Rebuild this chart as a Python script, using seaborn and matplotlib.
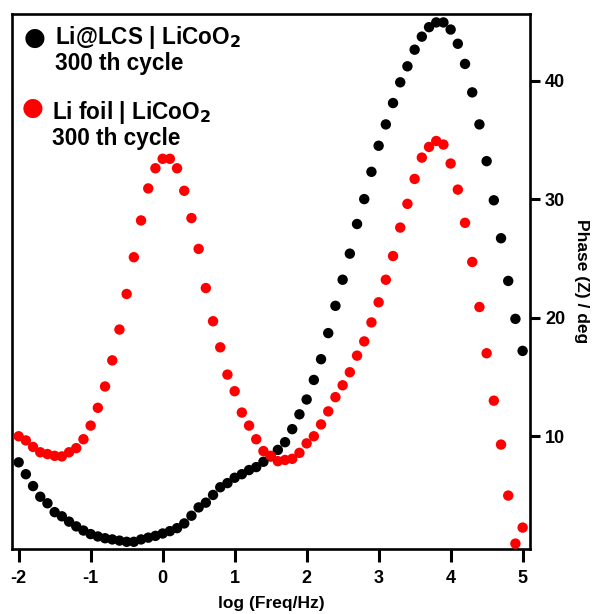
import numpy as np
import pandas as pd
import matplotlib
matplotlib.use("Agg")
import matplotlib.pyplot as plt
import seaborn as sns

# ---- data ----
log_freq = [-2.0, -1.9, -1.8, -1.7, -1.6, -1.5, -1.4, -1.3, -1.2, -1.1,
            -1.0, -0.9, -0.8, -0.7, -0.6, -0.5, -0.4, -0.3, -0.2, -0.1,
            0.0, 0.1, 0.2, 0.3, 0.4, 0.5, 0.6, 0.7, 0.8, 0.9,
            1.0, 1.1, 1.2, 1.3, 1.4, 1.5, 1.6, 1.7, 1.8, 1.9,
            2.0, 2.1, 2.2, 2.3, 2.4, 2.5, 2.6, 2.7, 2.8, 2.9,
            3.0, 3.1, 3.2, 3.3, 3.4, 3.5, 3.6, 3.7, 3.8, 3.9,
            4.0, 4.1, 4.2, 4.3, 4.4, 4.5, 4.6, 4.7, 4.8, 4.9, 5.0]

phase_lcs = [7.8, 6.8, 5.8, 4.9, 4.35, 3.6, 3.25, 2.8, 2.4, 2.05,
             1.75, 1.55, 1.4, 1.3, 1.2, 1.1, 1.1, 1.3, 1.45, 1.6,
             1.8, 2.0, 2.25, 2.65, 3.3, 4.0, 4.4, 5.05, 5.7, 6.05,
             6.5, 6.8, 7.15, 7.4, 7.85, 8.3, 8.85, 9.5, 10.6, 11.85,
             13.1, 14.75, 16.5, 18.7, 21.0, 23.2, 25.4, 27.9, 30.0, 32.3,
             34.5, 36.3, 38.1, 39.85, 41.2, 42.6, 43.7, 44.5, 44.9, 44.9,
             44.3, 43.1, 41.4, 39.0, 36.3, 33.2, 29.9, 26.7, 23.1, 19.9, 17.2]

phase_foil = [10.0, 9.65, 9.1, 8.65, 8.5, 8.35, 8.3, 8.65, 9.0, 9.75,
              10.9, 12.4, 14.2, 16.4, 19.0, 22.0, 25.1, 28.2, 30.9, 32.6,
              33.4, 33.4, 32.6, 30.7, 28.4, 25.8, 22.5, 19.7, 17.5, 15.2,
              13.8, 12.0, 10.9, 9.75, 8.75, 8.35, 7.9, 8.0, 8.1, 8.6,
              9.4, 10.0, 11.0, 12.1, 13.3, 14.3, 15.4, 16.8, 18.0, 19.6,
              21.3, 23.2, 25.2, 27.6, 29.6, 31.7, 33.5, 34.4, 34.9, 34.6,
              33.0, 30.8, 28.0, 24.7, 20.9, 17.0, 13.0, 9.3, 5.0, 0.95, 2.3]

series_names = ["Li@LCS | LiCoO$_2$", "Li foil | LiCoO$_2$"]
series_colors = ["#000000", "#ff0000"]
cycle_label = "300 th cycle"
x_ticks = [-2, -1, 0, 1, 2, 3, 4, 5]
y_ticks = [10, 20, 30, 40]

df = pd.DataFrame({
    "logf": log_freq + log_freq,
    "phase": phase_lcs + phase_foil,
    "cell": [series_names[0]] * len(log_freq) + [series_names[1]] * len(log_freq),
})

# ---- style ----
sns.set_style("ticks")
plt.rcParams["font.family"] = ["Liberation Sans", "DejaVu Sans"]
plt.rcParams["font.weight"] = "bold"
plt.rcParams["mathtext.default"] = "bf"
plt.rcParams["text.color"] = "black"
plt.rcParams["axes.labelcolor"] = "black"
plt.rcParams["xtick.color"] = "black"
plt.rcParams["ytick.color"] = "black"

fig = plt.figure(figsize=(5.98, 6.14), dpi=100)
ax = fig.add_axes([0.020, 0.106, 0.866, 0.871])

sns.scatterplot(data=df, x="logf", y="phase", hue="cell",
                palette=dict(zip(series_names, series_colors)),
                s=56, edgecolor="none", linewidth=0, legend=False,
                ax=ax, zorder=3, clip_on=False)

ax.set_xlim(-2.093, 5.10)
ax.set_ylim(0.5, 45.6)
ax.set_xticks(x_ticks)
ax.set_xticklabels([str(t) for t in x_ticks])
ax.set_yticks(y_ticks)
ax.set_yticklabels([str(t) for t in y_ticks])

ax.yaxis.tick_right()
ax.yaxis.set_label_position("right")
ax.tick_params(axis="x", direction="out", length=9, width=2.2, labelsize=13,
               pad=6, colors="black")
ax.tick_params(axis="y", direction="out", length=7, width=2.2, labelsize=13,
               pad=4, colors="black")
for lab in ax.get_xticklabels() + ax.get_yticklabels():
    lab.set_fontweight("bold")

for sp in ax.spines.values():
    sp.set_visible(True)
    sp.set_linewidth(1.9)
    sp.set_color("black")

ax.set_xlabel("log (Freq/Hz)", fontsize=12.5, fontweight="bold", labelpad=7,
              color="black")
ax.set_ylabel("Phase (Z) / deg", fontsize=12.5, fontweight="bold",
              rotation=270, labelpad=17, color="black")

# ---- legend-like annotation ----
W, H = 598.0, 614.0
def fx(px): return px / W
def fy(py): return 1 - py / H

fig.text(fx(35), fy(38), "\u25CF", color=series_colors[0], fontsize=18,
         ha="center", va="center", family="DejaVu Sans")
fig.text(fx(55), fy(44), series_names[0], fontsize=16.3, fontweight="bold",
         ha="left", va="baseline")
fig.text(fx(55), fy(70), cycle_label, fontsize=16.3, fontweight="bold",
         ha="left", va="baseline")
fig.text(fx(33), fy(108), "\u25CF", color=series_colors[1], fontsize=18,
         ha="center", va="center", family="DejaVu Sans")
fig.text(fx(52), fy(119), series_names[1], fontsize=16.3, fontweight="bold",
         ha="left", va="baseline")
fig.text(fx(52), fy(145), cycle_label, fontsize=16.3, fontweight="bold",
         ha="left", va="baseline")

fig.savefig("out.png", dpi=100)
